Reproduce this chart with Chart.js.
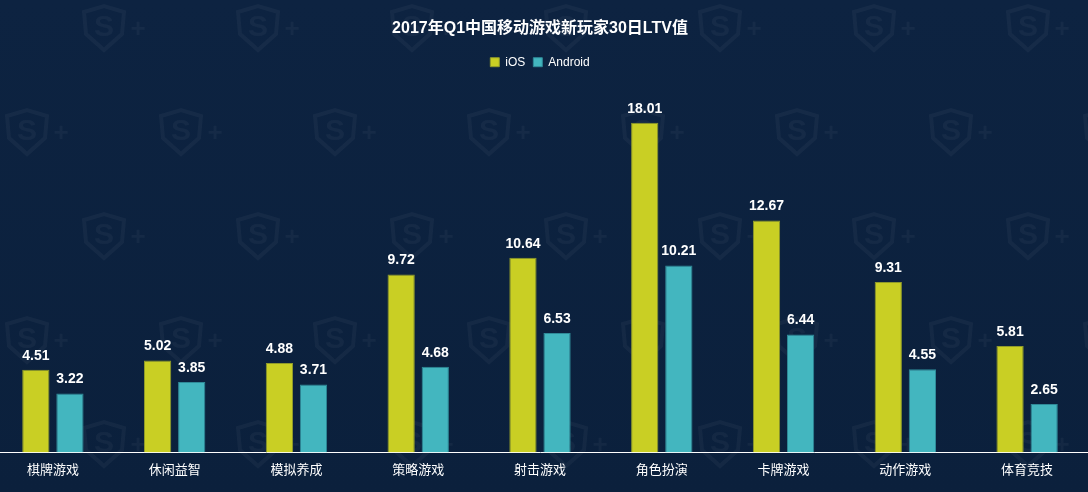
<!DOCTYPE html>
<html>
<head>
<meta charset="utf-8">
<script src="https://cdn.jsdelivr.net/npm/chart.js@4/dist/chart.umd.min.js"></script>
<style>
  html, body { margin: 0; padding: 0; background: #0c2240; overflow: hidden; }
  #wrap { width: 1088px; height: 492px; position: relative; overflow: hidden; }
  #chart { position: absolute; left: -8px; top: 0; }
</style>
</head>
<body>
<div id="wrap"><canvas id="chart" width="1096" height="492"></canvas></div>
<script>
const categories = ['棋牌游戏', '休闲益智', '模拟养成', '策略游戏', '射击游戏', '角色扮演', '卡牌游戏', '动作游戏', '体育竞技'];
const iosValues = [4.51, 5.02, 4.88, 9.72, 10.64, 18.01, 12.67, 9.31, 5.81];
const androidValues = [3.22, 3.85, 3.71, 4.68, 6.53, 10.21, 6.44, 4.55, 2.65];

const FONT = '"Liberation Sans", Arial, "Noto Sans CJK SC", sans-serif';

function drawMark(ctx, cx, cy) {
  // faint shield + plus watermark
  ctx.beginPath();
  ctx.moveTo(cx - 20, cy - 16);
  ctx.lineTo(cx, cy - 22);
  ctx.lineTo(cx + 20, cy - 16);
  ctx.lineTo(cx + 18, cy + 6);
  ctx.lineTo(cx, cy + 22);
  ctx.lineTo(cx - 18, cy + 6);
  ctx.closePath();
  ctx.lineWidth = 4;
  ctx.stroke();
  ctx.font = 'bold 30px ' + FONT;
  ctx.fillText('S', cx, cy);
  ctx.font = 'bold 26px ' + FONT;
  ctx.fillText('+', cx + 34, cy + 2);
}

const backdrop = {
  id: 'backdrop',
  beforeDraw(chart) {
    const { ctx, width, height } = chart;
    ctx.save();
    const g = ctx.createLinearGradient(0, 0, 0, height);
    g.addColorStop(0, '#0d2341');
    g.addColorStop(1, '#0b203c');
    ctx.fillStyle = g;
    ctx.fillRect(0, 0, width, height);
    ctx.fillStyle = 'rgba(255,255,255,0.04)';
    ctx.strokeStyle = 'rgba(255,255,255,0.04)';
    ctx.textAlign = 'center';
    ctx.textBaseline = 'middle';
    for (let row = 0; row < 6; row++) {
      for (let col = -1; col < 8; col++) {
        const x = 112 + col * 154 + (row % 2 ? -77 : 0);
        const y = 28 + row * 104;
        drawMark(ctx, x, y);
      }
    }
    ctx.restore();
  }
};

const valueLabels = {
  id: 'valueLabels',
  afterDatasetsDraw(chart) {
    const { ctx } = chart;
    ctx.save();
    ctx.fillStyle = '#ffffff';
    ctx.font = 'bold 14px ' + FONT;
    ctx.textAlign = 'center';
    ctx.textBaseline = 'bottom';
    chart.data.datasets.forEach((ds, i) => {
      chart.getDatasetMeta(i).data.forEach((bar, j) => {
        ctx.fillText(ds.data[j].toFixed(2), bar.x, bar.y - 7);
      });
    });
    ctx.restore();
  }
};

new Chart(document.getElementById('chart'), {
  type: 'bar',
  data: {
    labels: categories,
    datasets: [
      {
        label: 'iOS',
        data: iosValues,
        backgroundColor: '#c9cf24',
        borderColor: '#8f9a2a',
        borderWidth: 1,
        categoryPercentage: 0.56,
        barPercentage: 0.8
      },
      {
        label: 'Android',
        data: androidValues,
        backgroundColor: '#43b6bf',
        borderColor: '#2f8a98',
        borderWidth: 1,
        categoryPercentage: 0.56,
        barPercentage: 0.8
      }
    ]
  },
  options: {
    responsive: false,
    animation: false,
    layout: { padding: { left: 0, right: 0, top: 13, bottom: 4 } },
    plugins: {
      title: {
        display: true,
        text: '2017年Q1中国移动游戏新玩家30日LTV值',
        color: '#ffffff',
        font: { family: FONT, size: 16, weight: 'bold' },
        padding: { top: 6, bottom: 10 }
      },
      legend: {
        labels: {
          color: '#ffffff',
          font: { family: FONT, size: 12 },
          boxWidth: 9,
          boxHeight: 9,
          padding: 8
        }
      },
      tooltip: { enabled: false }
    },
    scales: {
      x: {
        grid: { display: false, drawTicks: false },
        border: { display: true, color: '#ffffff', width: 1 },
        ticks: { color: '#ffffff', font: { family: FONT, size: 13 }, padding: 10 }
      },
      y: {
        display: false,
        min: 0,
        max: 20.45
      }
    }
  },
  plugins: [backdrop, valueLabels]
});
</script>
</body>
</html>
